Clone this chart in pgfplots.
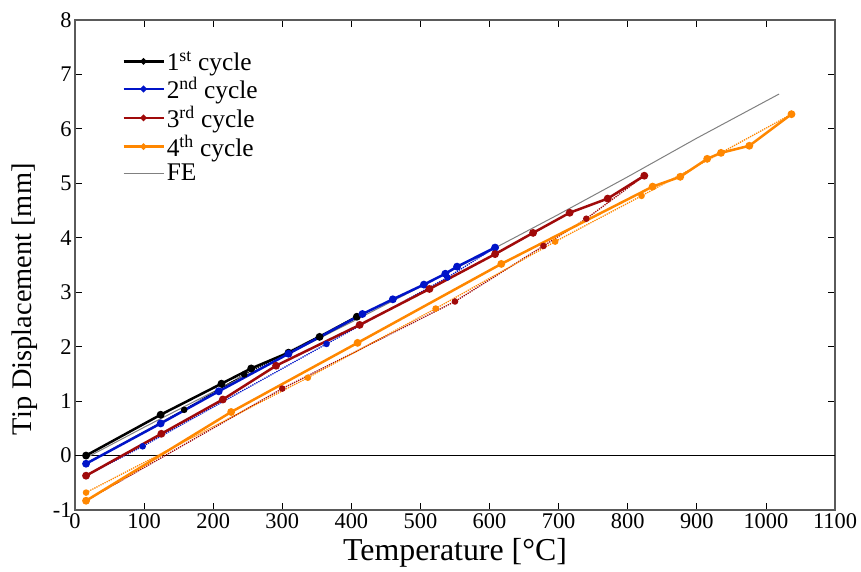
\documentclass[border=0pt]{standalone}
\usepackage{pgfplots}
\pgfplotsset{compat=1.18}
\usepackage{fontspec}
\setmainfont{Liberation Serif}
\definecolor{cblue}{RGB}{0,20,200}
\definecolor{cred}{RGB}{160,10,10}
\definecolor{corange}{RGB}{255,135,0}
\definecolor{cfe}{RGB}{128,128,128}
\definecolor{frame}{RGB}{90,90,90}
\begin{document}
\begin{tikzpicture}
\useasboundingbox (-75bp,-62bp) rectangle (786bp,510bp);
\begin{axis}[
  at={(0,0)}, anchor=south west,
  scale only axis, width=760bp, height=490bp,
  xmin=0, xmax=1100, ymin=-1, ymax=8,
  xtick={0,100,...,1100}, ytick={-1,0,...,8},
  xticklabels={0,100,200,300,400,500,600,700,800,900,1000,1100},
  yticklabels={-1,0,1,2,3,4,5,6,7,8},
  tick align=inside, major tick length=7bp,
  every tick/.style={black, line width=0.8bp},
  axis line style={frame, line width=1.5bp},
  tick label style={font=\rmfamily\fontsize{22.5}{24}\selectfont},
  xlabel={Temperature [\textdegree C]},
  ylabel={Tip Displacement [mm]},
  xlabel style={font=\rmfamily\fontsize{32}{34}\selectfont, at={(axis description cs:0.5,-0.088)}, anchor=center},
  ylabel style={font=\rmfamily\fontsize{28.5}{30}\selectfont, at={(axis description cs:-0.066,0.43)}, anchor=center},
  legend style={at={(axis description cs:0.058,0.945)}, anchor=north west, draw=none, fill=none,
    font=\rmfamily\fontsize{25.5}{27}\selectfont, row sep=2bp},
  legend cell align=left,
  legend image code/.code={\draw[#1, mark repeat=2, mark phase=2, mark size=1.8bp] plot coordinates {(0bp,0bp)(20bp,0bp)(40bp,0bp)};},
  clip=false,
]
% zero line
\addplot[black, line width=1bp, forget plot] coordinates {(0,0)(1100,0)};
% FE
\addplot[cfe, line width=1bp, forget plot] coordinates {(15,-0.05)(100,0.52)(200,1.17)(300,1.81)(400,2.45)(500,3.10)(600,3.76)(700,4.43)(800,5.12)(900,5.83)(1019,6.64)};
% cooling (dotted)
\addplot[black, line width=1.3bp, densely dotted, mark=*, mark size=2.6bp, mark options={solid}, forget plot] coordinates {(408,2.55)(245,1.49)(158,0.84)(16,-0.15)};
\addplot[cblue, line width=1.3bp, densely dotted, mark=*, mark size=2.6bp, mark options={solid}, forget plot] coordinates {(608,3.82)(539,3.27)(364,2.05)(98,0.17)(16,-0.37)};
\addplot[cred, line width=1.3bp, densely dotted, mark=*, mark size=2.6bp, mark options={solid}, forget plot] coordinates {(824,5.14)(740,4.35)(678,3.85)(550,2.83)(300,1.23)(16,-0.83)};
\addplot[corange, line width=1.3bp, densely dotted, mark=*, mark size=2.6bp, mark options={solid}, forget plot] coordinates {(1037,6.27)(935,5.56)(820,4.77)(695,3.93)(522,2.70)(337,1.43)(16,-0.68)};
% heating (solid)
\addplot[black, line width=2.5bp, mark=*, mark size=2.6bp] coordinates {(16,0)(124,0.75)(212,1.32)(255,1.6)(309,1.89)(354,2.18)(408,2.55)};
\addlegendentry{1\textsuperscript{st} cycle}
\addplot[cblue, line width=2.5bp, mark=*, mark size=2.6bp] coordinates {(16,-0.15)(124,0.59)(208,1.18)(309,1.87)(416,2.6)(460,2.87)(505,3.14)(536,3.34)(553,3.47)(608,3.82)};
\addlegendentry{2\textsuperscript{nd} cycle}
\addplot[cred, line width=2.5bp, mark=*, mark size=2.6bp] coordinates {(16,-0.37)(125,0.40)(214,1.03)(291,1.65)(412,2.4)(513,3.06)(608,3.70)(663,4.09)(716,4.46)(771,4.72)(824,5.14)};
\addlegendentry{3\textsuperscript{rd} cycle}
\addplot[corange, line width=2.5bp, mark=*, mark size=2.6bp] coordinates {(16,-0.83)(226,0.80)(409,2.07)(617,3.52)(836,4.94)(876,5.12)(915,5.45)(935,5.56)(976,5.69)(1037,6.27)};
\addlegendentry{4\textsuperscript{th} cycle}
\addlegendimage{cfe, line width=1bp}
\addlegendentry{FE}
\end{axis}
\end{tikzpicture}
\end{document}
